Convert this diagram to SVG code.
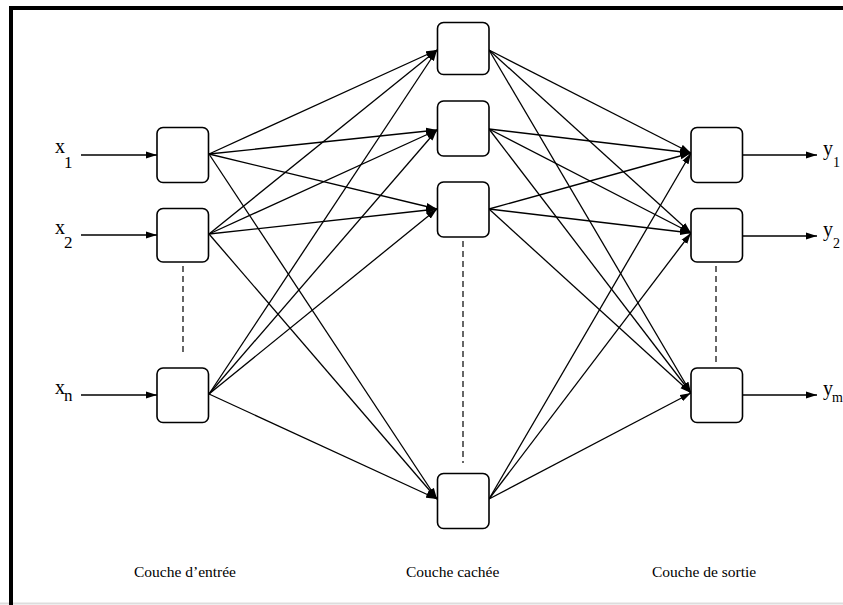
<svg xmlns="http://www.w3.org/2000/svg" width="843" height="605" viewBox="0 0 843 605">
<defs>
<marker id="ah" markerUnits="userSpaceOnUse" markerWidth="12" markerHeight="8" refX="11" refY="4" orient="auto">
<path d="M0,0.5 L11,4 L0,7.5 z" fill="#000"/>
</marker>
<style>
.node{fill:#fff;stroke:#000;stroke-width:1.6}
.c{stroke:#000;stroke-width:1.3;fill:none;marker-end:url(#ah)}
.d{stroke:#000;stroke-width:1.2;stroke-dasharray:6 4;fill:none}
.t{font-family:"Liberation Serif",serif;fill:#000}
.lbl{font-size:15.5px}
.v{font-size:20px}
.s{font-size:17px}
.so{font-size:14px}
</style>
</defs>
<rect x="0" y="0" width="843" height="605" fill="#fff"/>
<g id="frame">
<line x1="0" y1="603.5" x2="843" y2="603.5" stroke="#ddd" stroke-width="2"/>
<line x1="11" y1="6" x2="11" y2="605" stroke="#000" stroke-width="4"/>
<line x1="9" y1="8" x2="843" y2="8" stroke="#000" stroke-width="4"/>
</g>
<g id="connectors">
<line class="c" x1="81" y1="155" x2="157" y2="155"/>
<line class="c" x1="81" y1="235" x2="157" y2="235"/>
<line class="c" x1="81" y1="395" x2="157" y2="395"/>
<line class="c" x1="209" y1="154" x2="437" y2="50"/>
<line class="c" x1="209" y1="154" x2="437" y2="130"/>
<line class="c" x1="209" y1="154" x2="437" y2="209"/>
<line class="c" x1="209" y1="154" x2="437" y2="499"/>
<line class="c" x1="209" y1="234" x2="437" y2="50"/>
<line class="c" x1="209" y1="234" x2="437" y2="130"/>
<line class="c" x1="209" y1="234" x2="437" y2="209"/>
<line class="c" x1="209" y1="234" x2="437" y2="499"/>
<line class="c" x1="209" y1="394" x2="437" y2="50"/>
<line class="c" x1="209" y1="394" x2="437" y2="130"/>
<line class="c" x1="209" y1="394" x2="437" y2="209"/>
<line class="c" x1="209" y1="394" x2="437" y2="499"/>
<line class="c" x1="489" y1="50" x2="691" y2="153"/>
<line class="c" x1="489" y1="50" x2="691" y2="233"/>
<line class="c" x1="489" y1="50" x2="691" y2="393"/>
<line class="c" x1="489" y1="129" x2="691" y2="153"/>
<line class="c" x1="489" y1="129" x2="691" y2="233"/>
<line class="c" x1="489" y1="129" x2="691" y2="393"/>
<line class="c" x1="489" y1="209" x2="691" y2="153"/>
<line class="c" x1="489" y1="209" x2="691" y2="233"/>
<line class="c" x1="489" y1="209" x2="691" y2="393"/>
<line class="c" x1="489" y1="499" x2="691" y2="153"/>
<line class="c" x1="489" y1="499" x2="691" y2="233"/>
<line class="c" x1="489" y1="499" x2="691" y2="393"/>
<line class="c" x1="743" y1="155" x2="817" y2="155"/>
<line class="c" x1="743" y1="236" x2="817" y2="236"/>
<line class="c" x1="743" y1="395" x2="817" y2="395"/>
<line class="d" x1="183" y1="266" x2="183" y2="356"/>
<line class="d" x1="463" y1="241" x2="463" y2="463"/>
<line class="d" x1="716" y1="266" x2="716" y2="364"/>
</g>
<g id="in1"><rect class="node" x="157" y="127.5" width="51.5" height="55" rx="6"/></g>
<g id="in2"><rect class="node" x="157" y="208.5" width="51.5" height="53.5" rx="6"/></g>
<g id="inn"><rect class="node" x="157" y="368" width="51.5" height="54.5" rx="6"/></g>
<g id="h1"><rect class="node" x="437.5" y="22.5" width="51.5" height="52" rx="6"/></g>
<g id="h2"><rect class="node" x="437.5" y="101" width="51.5" height="55" rx="6"/></g>
<g id="h3"><rect class="node" x="437.5" y="182" width="51.5" height="55" rx="6"/></g>
<g id="hn"><rect class="node" x="437.5" y="473.5" width="51.5" height="55" rx="6"/></g>
<g id="o1"><rect class="node" x="691" y="127.5" width="51.5" height="55" rx="6"/></g>
<g id="o2"><rect class="node" x="691" y="208.5" width="51.5" height="53.5" rx="6"/></g>
<g id="on"><rect class="node" x="691" y="368" width="51.5" height="54.5" rx="6"/></g>
<g id="labels">
<text class="t v" x="55" y="153">x</text><text class="t s" x="64" y="168">1</text>
<text class="t v" x="55" y="234">x</text><text class="t s" x="64" y="248">2</text>
<text class="t v" x="55" y="394">x</text><text class="t s" x="64" y="401">n</text>
<text class="t v" x="823" y="155">y</text><text class="t so" x="833" y="167">1</text>
<text class="t v" x="823" y="236">y</text><text class="t so" x="833" y="248">2</text>
<text class="t v" x="823" y="395">y</text><text class="t so" x="832" y="402">m</text>
<text class="t lbl" x="134" y="577">Couche d’entrée</text>
<text class="t lbl" x="406" y="577">Couche cachée</text>
<text class="t lbl" x="652" y="577">Couche de sortie</text>
</g>
</svg>
